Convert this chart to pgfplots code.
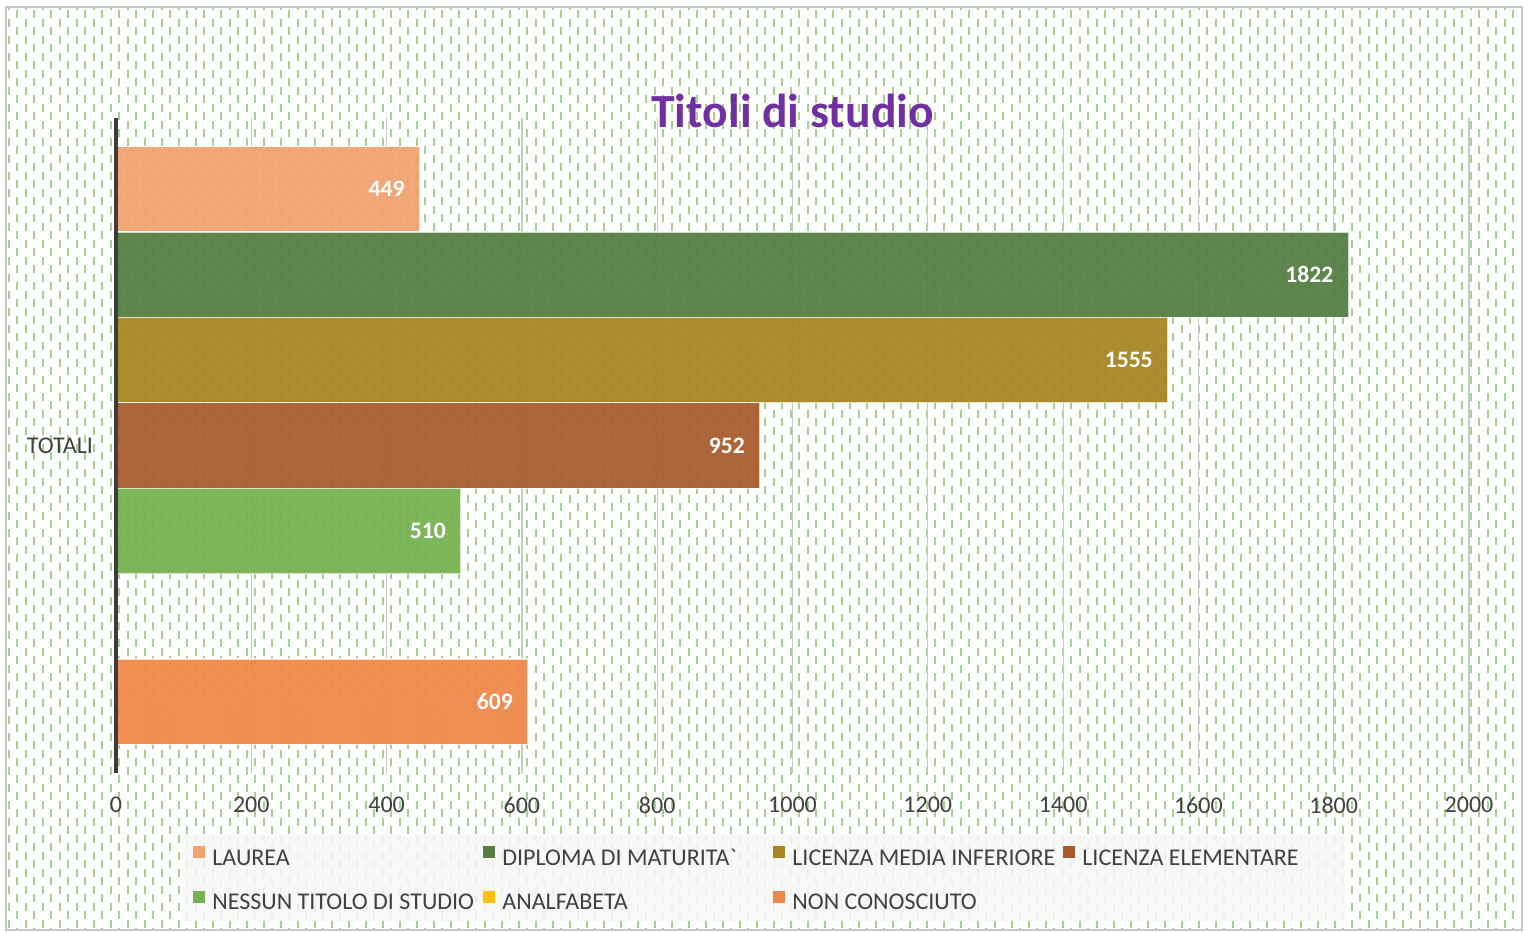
\documentclass[border=0pt]{standalone}
\usepackage{fontspec}
\setmainfont{Carlito}
\usepackage{pgfplots}
\pgfplotsset{compat=1.18}
\definecolor{patgreen}{RGB}{169,209,142}
\definecolor{bordergray}{RGB}{200,200,200}
\definecolor{axisdark}{RGB}{60,60,60}
\definecolor{gridgray}{RGB}{200,200,200}
\definecolor{labelgray}{RGB}{64,64,64}
\definecolor{titlepurple}{RGB}{112,48,160}
\definecolor{cLaurea}{RGB}{242,162,112}
\definecolor{cDiploma}{RGB}{84,126,66}
\definecolor{cMedia}{RGB}{166,134,35}
\definecolor{cElem}{RGB}{168,92,45}
\definecolor{cNessun}{RGB}{118,178,82}
\definecolor{cAnalf}{RGB}{255,192,0}
\definecolor{cNonCon}{RGB}{238,136,74}
\begin{document}
\begin{tikzpicture}
\useasboundingbox (0,0) rectangle (764pt,-466pt);
\fill[white] (0,0) rectangle (764pt,-466pt);
\begin{scope}
\clip (3pt,-3.5pt) rectangle (761pt,-465pt);
\foreach \j in {0,...,90} {
  \draw[patgreen, line width=1pt, dash pattern=on 4pt off 4.5pt] ({0.15pt+\j*8.5pt},3.5pt) -- ++(0,-475pt);
  \draw[patgreen, line width=1pt, dash pattern=on 4pt off 4.5pt] ({4.4pt+\j*8.5pt},-0.75pt) -- ++(0,-475pt);
}
\end{scope}
\draw[bordergray, line width=1pt] (3pt,-3.5pt) rectangle (761pt,-465pt);
\fill[gray!6, opacity=0.85] (91.5pt,-417.5pt) rectangle (672.5pt,-460.5pt);
\begin{axis}[
  at={(58pt,-59pt)}, anchor=north west,
  scale only axis, width=676.5pt, height=327.5pt,
  clip=false,
  xbar, bar width=1,
  every axis plot/.append style={bar shift=0pt, fill opacity=0.94, draw=white, draw opacity=0.7, line width=0.6pt},
  xmin=0, xmax=2000, ymin=-0.834, ymax=6.834,
  xtick={0,200,...,2000}, ytick={3}, yticklabels={TOTALI},
  axis lines*=left,
  x axis line style={draw=none},
  y axis line style={draw=none},
  major tick length=0pt,
  xmajorgrids, grid style={draw=gridgray, line width=0.6pt},
  tick label style={font=\fontsize{12}{14}\selectfont, text=labelgray},
  xticklabel style={yshift=-8.5pt},
  yticklabel style={xshift=-8pt},
  /pgf/number format/assume math mode=true,
  /pgf/number format/1000 sep={},
  title={Titoli di studio},
  title style={at={(0.5,1)}, anchor=base, yshift=-10.5pt, font=\bfseries\fontsize{23.8}{26}\selectfont, text=titlepurple},
  every node near coord/.append style={anchor=east, xshift=-4pt, font=\bfseries\fontsize{11.8}{13}\selectfont, text=white, text opacity=1},
  legend image code/.code={\fill[#1, draw=none, fill opacity=1] (0pt,0.3pt) rectangle (6pt,6.3pt);},
  legend columns=4,
  legend style={at={(0.0569,-0.1115)}, anchor=north west, draw=none, fill=none, inner sep=0pt,
    font=\fontsize{12}{14}\selectfont, text=labelgray,
    nodes={inner sep=0pt, text height=8.5pt, text depth=2.5pt},
    row sep=10.5pt,
    /tikz/every odd column/.append style={column sep=3.5pt}},
  legend cell align=left,
]
\addplot[fill=cLaurea, nodes near coords] coordinates {(449,6)};
\addlegendentry{\makebox[135.5pt][l]{LAUREA}}
\addplot[fill=cDiploma, nodes near coords] coordinates {(1822,5)};
\addlegendentry{\makebox[135.5pt][l]{DIPLOMA DI MATURITA\textasciigrave}}
\addplot[fill=cMedia, nodes near coords] coordinates {(1555,4)};
\addlegendentry{\makebox[135.5pt][l]{LICENZA MEDIA INFERIORE}}
\addplot[fill=cElem, nodes near coords] coordinates {(952,3)};
\addlegendentry{\makebox[135.5pt][l]{LICENZA ELEMENTARE}}
\addplot[fill=cNessun, nodes near coords] coordinates {(510,2)};
\addlegendentry{\makebox[135.5pt][l]{NESSUN TITOLO DI STUDIO}}
\addplot[fill=cAnalf, draw=none] coordinates {(0,1)};
\addlegendentry{\makebox[135.5pt][l]{ANALFABETA}}
\addplot[fill=cNonCon, nodes near coords] coordinates {(609,0)};
\addlegendentry{\makebox[135.5pt][l]{NON CONOSCIUTO}}
\draw[axisdark, line width=2pt] (axis cs:0,-0.834) -- (axis cs:0,6.834);
\end{axis}
\end{tikzpicture}
\end{document}
